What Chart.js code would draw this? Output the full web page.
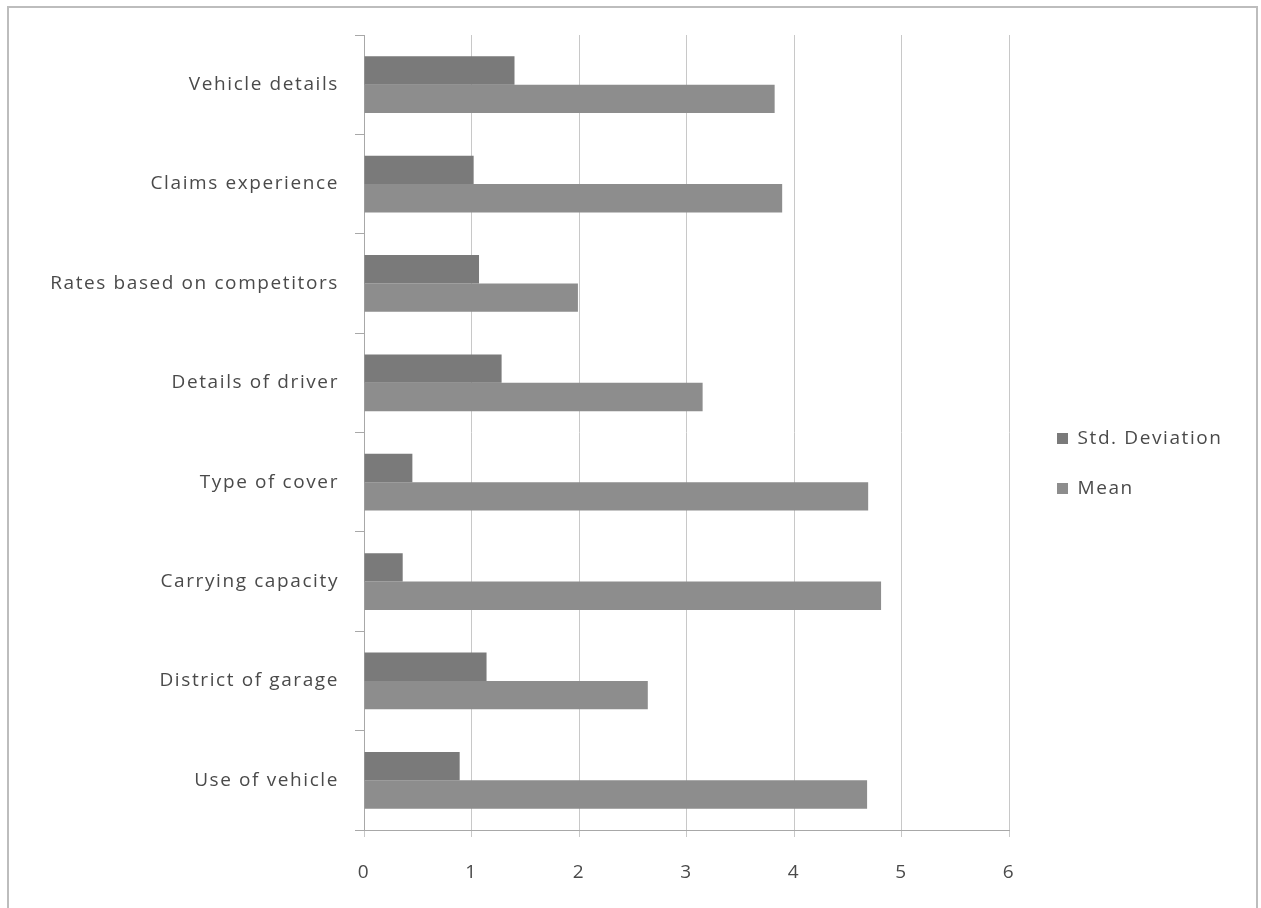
<!DOCTYPE html>
<html>
<head>
<meta charset="utf-8">
<script src="https://cdn.jsdelivr.net/npm/chart.js@4/dist/chart.umd.min.js"></script>
<style>
  html, body { margin: 0; padding: 0; background: #ffffff; }
  #wrap { position: relative; width: 1261px; height: 908px; }
  canvas { display: block; }
</style>
</head>
<body>
<div id="wrap"><canvas id="c" width="1261" height="908"></canvas></div>
<script>
// Rating factors (top to bottom)
const categories = [
  'Vehicle details',
  'Claims experience',
  'Rates based on competitors',
  'Details of driver',
  'Type of cover',
  'Carrying capacity',
  'District of garage',
  'Use of vehicle'
];
const stdDeviation = [1.40, 1.02, 1.07, 1.28, 0.45, 0.36, 1.14, 0.89];
const meanScore    = [3.82, 3.89, 1.99, 3.15, 4.69, 4.81, 2.64, 4.68];
const xTicks = [0, 1, 2, 3, 4, 5, 6];

const FONT = '"Open Sans", Lato, "Liberation Sans", sans-serif';
const TEXT = '#4a4a4a';
const TRACKING = '1.6px';

// Frame around the figure, text tracking and legend placement
const framePlugin = {
  id: 'frame',
  beforeInit(chart) {
    chart.ctx.letterSpacing = TRACKING;
  },
  beforeLayout(chart) {
    chart.ctx.letterSpacing = TRACKING;
    const lg = chart.legend;
    if (lg && !lg._wide) {
      const fit = lg.fit;
      lg.fit = function () { fit.call(this); this.width = 248; };
      lg._wide = true;
    }
  },
  afterLayout(chart) {
    const lg = chart.legend;
    if (!lg) return;
    const pad = lg.options.labels.padding;
    const w = lg.width, h = lg.height;
    lg.left = 1057 - pad; lg.right = lg.left + w;
    lg.top = 438 - pad - 9; lg.bottom = lg.top + h;
  },
  beforeDraw(chart) {
    const ctx = chart.ctx;
    ctx.letterSpacing = TRACKING;
    ctx.save();
    ctx.strokeStyle = '#bdbdbd';
    ctx.lineWidth = 2;
    ctx.beginPath();
    ctx.moveTo(8, 908);
    ctx.lineTo(8, 7);
    ctx.lineTo(1257, 7);
    ctx.lineTo(1257, 908);
    ctx.stroke();
    ctx.restore();
  }
};

new Chart(document.getElementById('c'), {
  type: 'bar',
  data: {
    labels: categories,
    datasets: [
      {
        label: 'Std. Deviation',
        data: stdDeviation,
        backgroundColor: '#7a7a7a',
        categoryPercentage: 0.57,
        barPercentage: 1.0
      },
      {
        label: 'Mean',
        data: meanScore,
        backgroundColor: '#8d8d8d',
        categoryPercentage: 0.57,
        barPercentage: 1.0
      }
    ]
  },
  options: {
    indexAxis: 'y',
    responsive: false,
    animation: false,
    layout: { padding: { top: 35, left: 0, right: 4, bottom: 0 } },
    plugins: {
      legend: {
        position: 'right',
        align: 'start',
        labels: {
          boxWidth: 11,
          boxHeight: 11,
          padding: 31,
          color: TEXT,
          font: { family: FONT, size: 19 }
        }
      },
      tooltip: { enabled: false }
    },
    scales: {
      x: {
        min: 0,
        max: 6,
        afterBuildTicks(scale) { scale.ticks = xTicks.map(v => ({ value: v })); },
        afterFit(scale) { scale.height = 78; },
        grid: {
          color: '#c8c8c8',
          lineWidth: 1,
          tickLength: 7,
          drawTicks: true
        },
        border: { color: '#a8a8a8', width: 1 },
        ticks: {
          color: TEXT,
          padding: 24,
          font: { family: FONT, size: 19 }
        }
      },
      y: {
        afterFit(scale) { scale.width = 364; },
        grid: {
          offset: true,
          drawOnChartArea: false,
          tickLength: 9,
          color: '#a8a8a8'
        },
        border: { color: '#a8a8a8', width: 1 },
        ticks: {
          color: TEXT,
          padding: 16,
          font: { family: FONT, size: 19 }
        }
      }
    }
  },
  plugins: [framePlugin]
});
</script>
</body>
</html>
